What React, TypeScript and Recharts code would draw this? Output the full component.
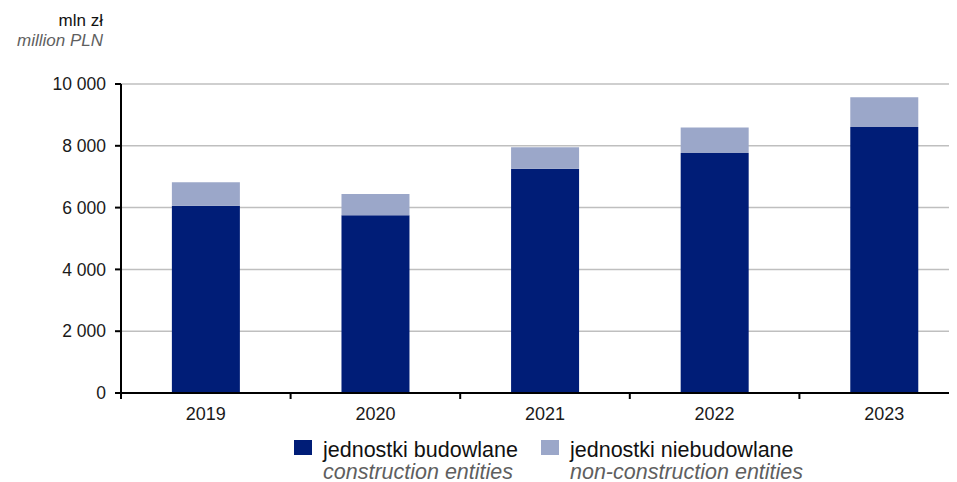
import { BarChart, Bar, XAxis, YAxis, CartesianGrid, Legend } from 'recharts';

const years = ['2019', '2020', '2021', '2022', '2023'];
const construction = [6060, 5750, 7260, 7770, 8610];
const nonConstruction = [760, 690, 690, 820, 960];
const yTicks = [0, 2000, 4000, 6000, 8000, 10000];

const seriesNames = [
  { pl: 'jednostki budowlane', en: 'construction entities', color: '#001D77' },
  { pl: 'jednostki niebudowlane', en: 'non-construction entities', color: '#9BA7C9' },
];

const data = years.map((year, i) => ({
  year,
  construction: construction[i],
  nonConstruction: nonConstruction[i],
}));

const FONT = '"Liberation Sans", Arial, sans-serif';
const CHART_W = 961;
const CHART_H = 474;
const Y_AXIS_W = 113;
const BAND = (CHART_W - Y_AXIS_W) / years.length;

const formatThousands = (v: number) => String(v).replace(/\B(?=(\d{3})+(?!\d))/g, ' ');

/** X tick: year label at band centre, tick mark at the left band boundary. */
function YearTick({ x, y, payload }: { x?: number; y?: number; payload?: { value: string } }) {
  const cx = x ?? 0;
  const axisY = (y ?? 0) - 14;
  return (
    <g>
      <line x1={cx - BAND / 2} x2={cx - BAND / 2} y1={axisY} y2={axisY + 6} stroke="#000" strokeWidth={2} />
      <text x={cx} y={y} dy="0.71em" textAnchor="middle" fill="#1a1a1a" fontSize={18} fontFamily={FONT}>
        {payload?.value}
      </text>
    </g>
  );
}

function LegendContent() {
  return (
    <div style={{ display: 'flex', fontFamily: FONT, fontSize: 21.5, lineHeight: '21.5px' }}>
      {seriesNames.map((s, i) => (
        <div key={s.pl} style={{ display: 'flex', width: i === 0 ? 247 : 'auto' }}>
          <div style={{ width: 18, height: 15, background: s.color, marginRight: 11, flexShrink: 0 }} />
          <div style={{ whiteSpace: 'nowrap' }}>
            <div style={{ color: '#111' }}>{s.pl}</div>
            <div style={{ color: '#5f5f5f', fontStyle: 'italic' }}>{s.en}</div>
          </div>
        </div>
      ))}
    </div>
  );
}

export default function App() {
  return (
    <div style={{ position: 'relative', width: 941, height: CHART_H, overflow: 'hidden', fontFamily: FONT }}>
      <div
        style={{
          position: 'absolute',
          right: 941 - 95,
          top: 3,
          textAlign: 'right',
          fontSize: 17,
          lineHeight: '20px',
          whiteSpace: 'nowrap',
        }}
      >
        <div style={{ color: '#111' }}>mln zł</div>
        <div style={{ color: '#5f5f5f', fontStyle: 'italic' }}>million PLN</div>
      </div>
      <BarChart
        width={CHART_W}
        height={CHART_H}
        data={data}
        margin={{ top: 76, right: 0, left: 0, bottom: 59 }}
        barCategoryGap="30%"
      >
        <CartesianGrid vertical={false} stroke="#BFBFBF" strokeWidth={1.5} />
        <XAxis
          dataKey="year"
          height={30}
          tickLine={false}
          tickSize={6}
          tickMargin={8}
          axisLine={{ stroke: '#000', strokeWidth: 2 }}
          tick={<YearTick />}
          interval={0}
        />
        <YAxis
          width={Y_AXIS_W}
          domain={[0, 10000]}
          ticks={yTicks}
          tickFormatter={formatThousands}
          axisLine={{ stroke: '#000', strokeWidth: 2 }}
          tickLine={{ stroke: '#000', strokeWidth: 2 }}
          tickSize={6}
          tickMargin={9}
          tick={{ fill: '#1a1a1a', fontSize: 17.5, fontFamily: FONT }}
        />
        <Legend
          layout="horizontal"
          verticalAlign="middle"
          content={<LegendContent />}
          wrapperStyle={{ top: 432, left: 286, width: 600 }}
        />
        <Bar dataKey="construction" stackId="a" fill={seriesNames[0].color} isAnimationActive={false} />
        <Bar dataKey="nonConstruction" stackId="a" fill={seriesNames[1].color} isAnimationActive={false} />
      </BarChart>
    </div>
  );
}
